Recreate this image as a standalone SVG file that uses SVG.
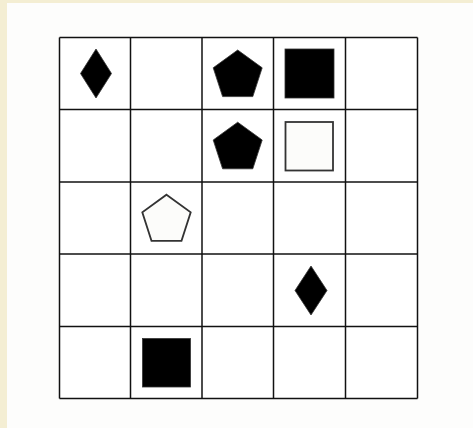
<svg xmlns="http://www.w3.org/2000/svg" width="473" height="428" viewBox="0 0 473 428">
<style>
.grid line{stroke:#111;stroke-width:1.5}
.blk{fill:#000;stroke:#333;stroke-width:0.8}
.wht{fill:#fcfcfa;stroke:#333;stroke-width:1.8}
</style>
<rect x="0" y="0" width="473" height="428" fill="#f4eed3"/>
<rect x="7" y="3" width="466" height="425" fill="#fdfdfc"/>
<g id="grid" class="grid">
<rect x="59.5" y="37.5" width="358" height="361" fill="#fff" stroke="none"/>
<line x1="59.5" y1="37.5" x2="59.5" y2="398.5"/>
<line x1="130.5" y1="37.5" x2="130.5" y2="398.5"/>
<line x1="202" y1="37.5" x2="202" y2="398.5"/>
<line x1="273.5" y1="37.5" x2="273.5" y2="398.5"/>
<line x1="345.5" y1="37.5" x2="345.5" y2="398.5"/>
<line x1="417.5" y1="37.5" x2="417.5" y2="398.5"/>
<line x1="59.5" y1="37.5" x2="417.5" y2="37.5"/>
<line x1="59.5" y1="109.5" x2="417.5" y2="109.5"/>
<line x1="59.5" y1="182" x2="417.5" y2="182"/>
<line x1="59.5" y1="254" x2="417.5" y2="254"/>
<line x1="59.5" y1="326.5" x2="417.5" y2="326.5"/>
<line x1="59.5" y1="398.5" x2="417.5" y2="398.5"/>
</g>
<g id="connectors"></g>
<g id="diamond-r0c0"><polygon class="blk" points="96,49 111.5,73.5 96,98 80.5,73.5"/></g>
<g id="pentagon-r0c2"><polygon class="blk" points="237.7,50 262.2,67.8 252.8,96.6 222.6,96.6 213.2,67.8"/></g>
<g id="square-r0c3"><rect class="blk" x="285" y="49" width="49" height="49"/></g>
<g id="pentagon-r1c2"><polygon class="blk" points="237.7,122.2 262.2,140 252.8,168.8 222.6,168.8 213.2,140"/></g>
<g id="square-r1c3"><rect class="wht" x="285.5" y="122" width="47.5" height="48.5"/></g>
<g id="pentagon-r2c1"><polygon class="wht" points="166.5,194.7 190.7,212.3 181.5,240.8 151.5,240.8 142.3,212.3"/></g>
<g id="diamond-r3c3"><polygon class="blk" points="311,266 327,290.5 311,315 295,290.5"/></g>
<g id="square-r4c1"><rect class="blk" x="142.5" y="338.5" width="48" height="48.5"/></g>
</svg>
